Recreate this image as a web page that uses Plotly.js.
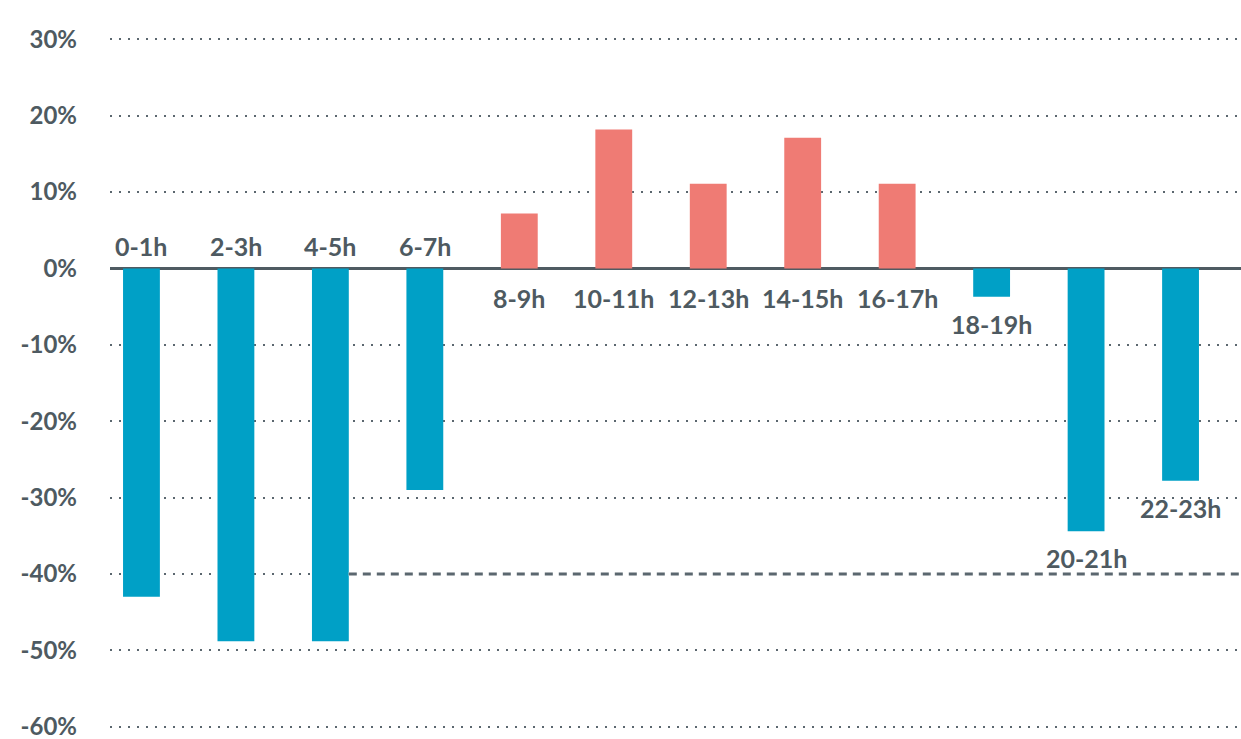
<!DOCTYPE html>
<html>
<head>
<meta charset="utf-8">
<script src="https://cdn.plot.ly/plotly-3.0.1.min.js"></script>
<style>html,body{margin:0;padding:0;background:#fff;}#chart{width:1241px;height:739px;}</style>
</head>
<body>
<div id="chart"></div>
<script>
// ---- data ----
const hourLabels = ["0-1h","2-3h","4-5h","6-7h","8-9h","10-11h","12-13h","14-15h","16-17h","18-19h","20-21h","22-23h"];
const changePct = [-43.0, -48.8, -48.8, -29.0, 7.2, 18.2, 11.1, 17.1, 11.1, -3.7, -34.4, -27.8];
const yTickVals = [30, 20, 10, 0, -10, -20, -30, -40, -50, -60];
const yTickText = ["30%","20%","10%","0%","-10%","-20%","-30%","-40%","-50%","-60%"];
const referenceLevel = -40;

// ---- style ----
const BLUE = "#00A0C6";
const RED = "#EF7B74";
const TEXT = "#4E5A61";
const GRID = "#5B676F";
const FONT = "Lato, 'Open Sans', sans-serif";
const barWidth = 0.39;
const xRange = [-0.333, 11.64];
const yRange = [-60.3, 30.3];

const idx = hourLabels.map((_, i) => i);
const colors = changePct.map(v => v >= 0 ? RED : BLUE);

let lastPos = -1;
changePct.forEach((v, i) => { if (v > 0) lastPos = i; });

const annotations = hourLabels.map((lab, i) => {
  const v = changePct[i];
  let y, yanchor, yshift;
  if (i > lastPos) { y = v; yanchor = v < 0 ? "top" : "bottom"; yshift = v < 0 ? -10 : 10; }
  else if (v < 0) { y = 0; yanchor = "bottom"; yshift = 5; }
  else { y = 0; yanchor = "top"; yshift = -13; }
  return {
    x: i, y: y, xref: "x", yref: "y", text: lab, showarrow: false,
    yanchor: yanchor, xanchor: "center", yshift: yshift,
    font: {family: FONT, size: 25, color: TEXT, weight: 700}
  };
});

const trace = {
  type: "bar",
  x: idx,
  y: changePct,
  width: barWidth,
  marker: {color: colors, line: {width: 0}},
  hoverinfo: "skip"
};

const layout = {
  width: 1241, height: 739,
  margin: {l: 110, r: 0, t: 37, b: 10},
  paper_bgcolor: "#fff", plot_bgcolor: "#fff",
  showlegend: false,
  xaxis: {
    range: xRange, showgrid: false, zeroline: false, showticklabels: false,
    showline: false, ticks: "", fixedrange: true
  },
  yaxis: {
    range: yRange,
    tickvals: yTickVals, ticktext: yTickText,
    showgrid: true, gridcolor: GRID, gridwidth: 2, griddash: "2px,7px",
    zeroline: true, zerolinecolor: "#4F5B62", zerolinewidth: 3,
    showline: false, ticks: "", ticklabelstandoff: 32,
    ticklabeloverflow: "allow",
    tickfont: {family: FONT, size: 24, color: TEXT, weight: 700},
    fixedrange: true
  },
  shapes: [
    {
      type: "line", xref: "x", yref: "y", layer: "above",
      x0: 2 + barWidth / 2, x1: xRange[1], y0: referenceLevel, y1: referenceLevel,
      line: {color: "#fff", width: 4}
    },
    {
      type: "line", xref: "x", yref: "y", layer: "above",
      x0: 2 + barWidth / 2, x1: xRange[1], y0: referenceLevel, y1: referenceLevel,
      line: {color: GRID, width: 3, dash: "8px,6px"}
    }
  ],
  annotations: annotations
};

Plotly.newPlot("chart", [trace], layout, {displayModeBar: false, staticPlot: true});
</script>
</body>
</html>
